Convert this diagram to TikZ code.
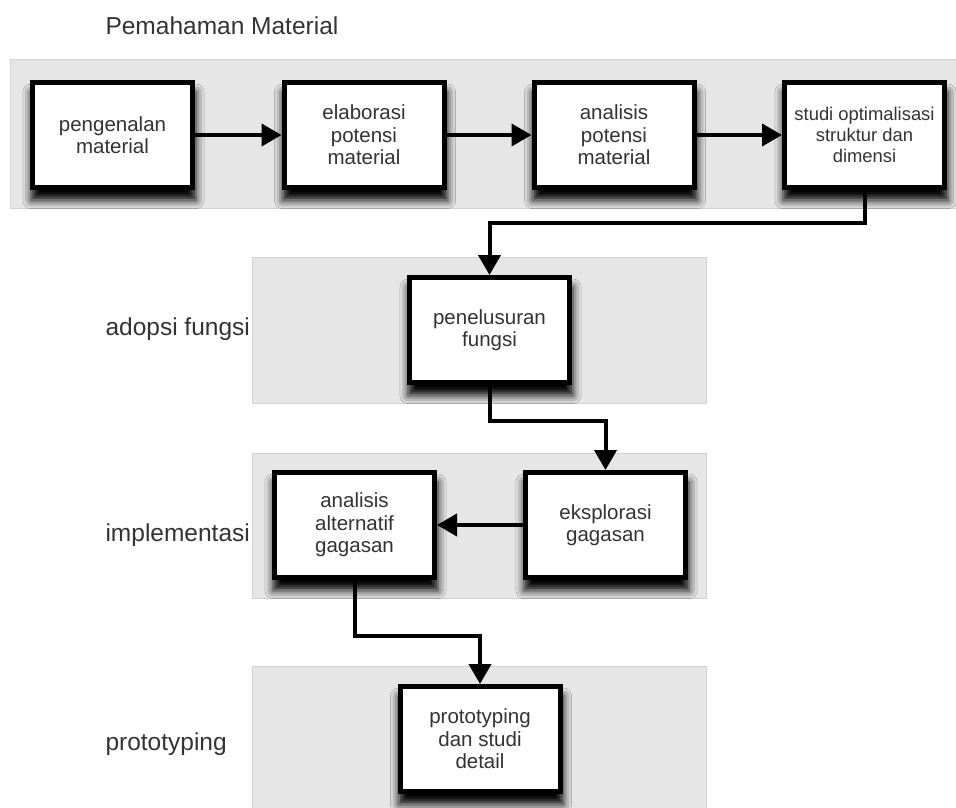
\documentclass[tikz,border=0pt]{standalone}
\usepackage{fontspec}
\setmainfont{Liberation Sans}
\usetikzlibrary{arrows.meta,positioning,shadows.blur}
\definecolor{bandgray}{HTML}{E6E6E6}
\definecolor{bandline}{HTML}{D2D2D2}
\definecolor{txtgray}{HTML}{333333}

\begin{document}
\begin{tikzpicture}[x=1pt,y=1pt,>={Triangle[length=20pt,width=22pt]},
    band/.style={fill=bandgray,draw=bandline,line width=1pt},
    proses/.style={draw=black,fill=white,line width=5pt,minimum width=160pt,
      minimum height=105pt,inner sep=2pt,align=center,text=txtgray,
      font=\fontsize{20.5}{22.5}\selectfont,
      blur shadow={shadow xshift=1pt,shadow yshift=-11pt,shadow scale=1.03,
        shadow blur radius=8pt,shadow opacity=100}},
    tahap/.style={anchor=base west,text=txtgray,font=\fontsize{24.5}{28}\selectfont},
    alur/.style={->,line width=4pt}]
    \useasboundingbox (0,0) rectangle (956,-808);
    \fill[white] (0,0) rectangle (956,-808);
    \draw[band] (10,-60) rectangle (962,-208);
    \draw[band] (252,-257) rectangle (706,-403);
    \draw[band] (252,-453) rectangle (706,-598);
    \draw[band] (252,-666) rectangle (706,-815);
    \node[tahap] (judul) at (102,-35) {Pemahaman Material};
    \node[tahap] (adopsi) at (102,-335) {adopsi fungsi};
    \node[tahap] (implementasi) at (102,-541) {implementasi};
    \node[tahap] (prototyping) at (102,-750) {prototyping};
    \node[proses] (pengenalan) at (112.5,-135) {pengenalan\\material};
    \node[proses] (elaborasi) at (364,-135) {elaborasi\\potensi\\material};
    \node[proses] (analisis) at (614,-135) {analisis\\potensi\\material};
    \node[proses,font=\fontsize{18.4}{21}\selectfont] (studi) at (864.5,-135)
      {studi optimalisasi\\struktur dan\\dimensi};
    \node[proses] (penelusuran) at (489.5,-330) {penelusuran\\fungsi};
    \node[proses] (alternatif) at (354.5,-525) {analisis\\alternatif\\gagasan};
    \node[proses] (eksplorasi) at (605.5,-525) {eksplorasi\\gagasan};
    \node[proses] (detail) at (480,-739) {prototyping\\dan studi\\detail};
    \draw[alur] (pengenalan) -- (elaborasi);
    \draw[alur] (elaborasi) -- (analisis);
    \draw[alur] (analisis) -- (studi);
    \draw[alur] (studi.south) -- ++(0,-33) -| (penelusuran.north);
    \draw[alur] (penelusuran.south) -- ++(0,-36) -| (eksplorasi.north);
    \draw[alur] (eksplorasi) -- (alternatif);
    \draw[alur] (alternatif.south) -- ++(0,-56) -| (detail.north);
  \end{tikzpicture}
\end{document}
